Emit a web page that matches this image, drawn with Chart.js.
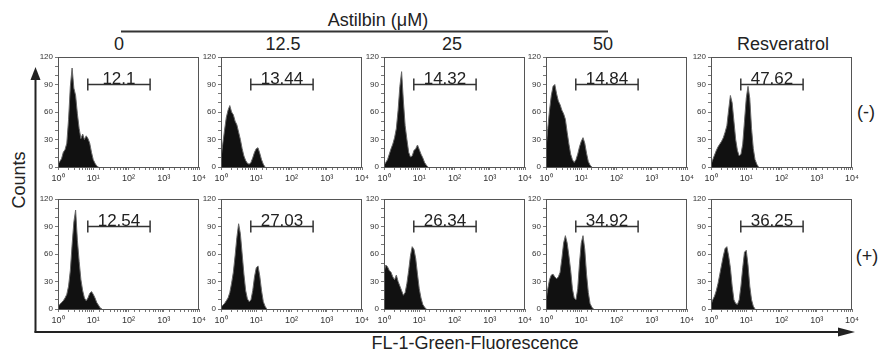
<!DOCTYPE html>
<html>
<head>
<meta charset="utf-8">
<script src="https://cdn.jsdelivr.net/npm/chart.js@4.4.0/dist/chart.umd.min.js"></script>
<style>
body { margin: 0; background: #fff; font-family: "Liberation Sans", Arial, sans-serif; color: #222; }
#wrap { position: relative; width: 881px; height: 349px; overflow: hidden; }
#wrap canvas { position: absolute; }
.lbl { position: absolute; font-size: 18px; white-space: nowrap; line-height: 1; transform: translate(-50%, -50%); }
</style>
</head>
<body>
<div id="wrap">
  <svg width="881" height="349" style="position:absolute;left:0;top:0">
    <line x1="121" y1="31.5" x2="608" y2="31.5" stroke="#333" stroke-width="2"/>
    <line x1="35.5" y1="76" x2="35.5" y2="332.5" stroke="#222" stroke-width="2"/>
    <polygon points="35.5,67 30.5,80 40.5,80" fill="#222"/>
    <line x1="34.5" y1="332" x2="842" y2="332" stroke="#222" stroke-width="2"/>
    <polygon points="855,332 838,327.5 838,336.5" fill="#222"/>
  </svg>
  <div class="lbl" style="left:378px;top:20px">Astilbin (μM)</div>
  <div class="lbl" style="left:119px;top:44px">0</div>
  <div class="lbl" style="left:283px;top:44px">12.5</div>
  <div class="lbl" style="left:452px;top:44px">25</div>
  <div class="lbl" style="left:603px;top:44px">50</div>
  <div class="lbl" style="left:783px;top:44px">Resveratrol</div>
  <div class="lbl" style="left:866px;top:112px">(-)</div>
  <div class="lbl" style="left:867px;top:256px">(+)</div>
  <div class="lbl" style="left:19px;top:180px;transform:translate(-50%,-50%) rotate(-90deg)">Counts</div>
  <div class="lbl" style="left:475px;top:343px">FL-1-Green-Fluorescence</div>
</div>
<script>
// fluorescence channels (log spaced, 0.05 decade apart)
const channel = [1, 1.122, 1.259, 1.413, 1.585, 1.778, 1.995, 2.239, 2.512, 2.818,
    3.162, 3.548, 3.981, 4.467, 5.012, 5.623, 6.310, 7.079, 7.943, 8.913,
    10, 11.22, 12.59, 14.13, 15.85, 17.78, 19.95, 22.39, 25.12, 28.18, 31.62];

// (-) row
const ctrlNeg = [3, 6, 9, 16, 19, 26, 52, 88, 108, 86, 78, 58, 42, 31, 36, 30, 34, 31, 26, 16, 8, 4, 1, 0];
const ast125Neg = [10, 25, 40, 54, 62, 67, 60, 57, 50, 46, 38, 30, 20, 12, 7, 4, 3, 5, 10, 16, 20, 21, 15, 8, 3, 0];
const ast25Neg = [2, 5, 8, 14, 20, 25, 32, 42, 62, 88, 104, 72, 45, 30, 16, 11, 12, 18, 20, 24, 19, 14, 10, 5, 2, 0];
const ast50Neg = [20, 42, 62, 78, 88, 90, 80, 72, 68, 62, 58, 52, 38, 25, 14, 8, 5, 8, 14, 22, 28, 32, 26, 15, 6, 2, 0];
const resvNeg = [3, 8, 13, 18, 22, 25, 28, 32, 38, 45, 62, 78, 70, 50, 30, 18, 12, 14, 25, 50, 75, 88, 75, 42, 20, 8, 3, 0];

// (+) row
const ctrlPos = [3, 5, 7, 9, 12, 16, 25, 42, 70, 95, 108, 75, 52, 32, 20, 12, 9, 12, 17, 19, 16, 12, 7, 4, 1, 0];
const ast125Pos = [2, 4, 6, 9, 12, 18, 28, 40, 58, 78, 93, 82, 60, 38, 20, 11, 8, 10, 20, 35, 45, 47, 36, 20, 8, 3, 0];
const ast25Pos = [40, 48, 46, 42, 40, 35, 32, 37, 30, 25, 20, 15, 18, 28, 42, 58, 68, 65, 55, 38, 22, 12, 5, 2, 0];
const ast50Pos = [10, 22, 32, 37, 38, 35, 33, 35, 40, 55, 72, 80, 72, 58, 42, 22, 12, 10, 22, 50, 72, 80, 65, 38, 18, 6, 2, 0];
const resvPos = [5, 10, 14, 20, 28, 38, 48, 58, 66, 68, 58, 45, 25, 10, 6, 5, 10, 25, 45, 62, 64, 48, 25, 10, 3, 0];

const panelCounts = [ctrlNeg, ast125Neg, ast25Neg, ast50Neg, resvNeg,
    ctrlPos, ast125Pos, ast25Pos, ast50Pos, resvPos];
const gateLabels = ['12.1', '13.44', '14.32', '14.84', '47.62',
    '12.54', '27.03', '26.34', '34.92', '36.25'];
const gateLow = 7;
const gateHigh = 410;
const gateLevel = 90;
const xTickLabels = ['10⁰', '10¹', '10²', '10³', '10⁴'];

// plot area placement
const colLeft = [58, 221, 384, 546, 711];
const rowTop = [57, 199];
const fontFamily = '"Liberation Sans", Arial, sans-serif';

const frame = {
    id: 'frame',
    afterDraw(chart) {
        const a = chart.chartArea;
        const ctx = chart.ctx;
        ctx.save();
        ctx.strokeStyle = '#555';
        ctx.lineWidth = 1;
        ctx.strokeRect(a.left + 0.5, a.top + 0.5, a.right - a.left - 1, a.bottom - a.top);
        ctx.restore();
    }
};

const gateText = {
    id: 'gateText',
    afterDatasetsDraw(chart, args, opts) {
        const ctx = chart.ctx;
        const x = chart.scales.x;
        const y = chart.scales.y;
        const mid = (x.getPixelForValue(gateLow) + x.getPixelForValue(gateHigh)) / 2;
        ctx.save();
        ctx.font = '17px ' + fontFamily;
        ctx.fillStyle = '#222';
        ctx.textAlign = 'center';
        ctx.textBaseline = 'alphabetic';
        ctx.fillText(opts.text, mid, y.getPixelForValue(gateLevel) - 1);
        ctx.restore();
    }
};

const wrap = document.getElementById('wrap');

panelCounts.forEach((counts, idx) => {
    const col = idx % 5;
    const row = Math.floor(idx / 5);
    const cv = document.createElement('canvas');
    cv.width = 181;
    cv.height = 140;
    cv.style.left = (colLeft[col] - 30) + 'px';
    cv.style.top = (rowTop[row] - 8) + 'px';
    wrap.appendChild(cv);

    new Chart(cv, {
        type: 'line',
        data: {
            datasets: [{
                data: [{x: gateLow, y: gateLevel}, {x: gateHigh, y: gateLevel}],
                borderColor: '#333',
                borderWidth: 1.5,
                pointStyle: 'line',
                rotation: 90,
                pointRadius: 6,
                pointBorderColor: '#333',
                pointBorderWidth: 1.5,
                fill: false
            }, {
                data: counts.map((v, i) => ({x: channel[i], y: v})),
                fill: 'origin',
                backgroundColor: '#111',
                borderColor: '#666',
                borderWidth: 1,
                pointRadius: 0,
                tension: 0
            }]
        },
        options: {
            responsive: false,
            animation: false,
            layout: {padding: {top: 8, right: 10, left: 0, bottom: 0}},
            plugins: {
                legend: {display: false},
                tooltip: {enabled: false},
                gateText: {text: gateLabels[idx]}
            },
            scales: {
                x: {
                    type: 'logarithmic',
                    min: 1,
                    max: 10000,
                    afterFit: (s) => { s.height = 22; },
                    border: {display: false},
                    grid: {drawOnChartArea: false, tickLength: 3, tickColor: '#777'},
                    ticks: {
                        autoSkip: false,
                        maxRotation: 0,
                        padding: 3,
                        color: '#333',
                        font: {size: 9, family: fontFamily},
                        callback: (v) => {
                            const e = Math.log10(v);
                            return Math.abs(e - Math.round(e)) < 1e-9 ? xTickLabels[Math.round(e)] : '';
                        }
                    }
                },
                y: {
                    min: 0,
                    max: 120,
                    afterFit: (s) => { s.width = 30; },
                    border: {display: false},
                    grid: {drawOnChartArea: false, tickLength: 3, tickColor: '#777'},
                    ticks: {
                        stepSize: 10,
                        autoSkip: false,
                        padding: 2,
                        color: '#333',
                        font: {size: 8, family: fontFamily},
                        callback: (v) => v % 30 === 0 ? v : ''
                    }
                }
            }
        },
        plugins: [frame, gateText]
    });
});
</script>
</body>
</html>
